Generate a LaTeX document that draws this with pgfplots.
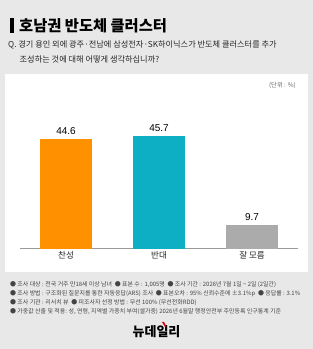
\documentclass[border=0pt]{standalone}
\usepackage{pgfplots}
\pgfplotsset{compat=1.18}
\usepackage{fontspec}
\setmainfont{Noto Sans CJK KR}
\newfontfamily\num{Liberation Sans}
\definecolor{bgc}{HTML}{E8E8E8}
\definecolor{orng}{HTML}{FF9000}
\definecolor{teal}{HTML}{0CAFC3}
\definecolor{grayb}{HTML}{ABABAB}
\definecolor{axc}{HTML}{9A9A9A}
\definecolor{ftc}{HTML}{444444}
\begin{document}
\begin{tikzpicture}[x=1bp,y=1bp]
\useasboundingbox (0,0) rectangle (313,349);
\fill[bgc] (0,0) rectangle (313,349);
\fill[white] (5,349-272) rectangle (308,349-74);
% title
\fill[black] (10,349-33) rectangle (14,349-18);
\node[anchor=west,inner sep=0pt,font=\fontsize{15.3bp}{16bp}\selectfont\bfseries] at (19,349-25.5) {호남권 반도체 클러스터};
\node[anchor=west,inner sep=0pt,font=\fontsize{8.2bp}{9bp}\selectfont,text=black!85] at (8,349-44.5) {Q. 경기 용인 외에 광주·전남에 삼성전자·SK하이닉스가 반도체 클러스터를 추가};
\node[anchor=west,inner sep=0pt,font=\fontsize{8.2bp}{9bp}\selectfont,text=black!85] at (19.5,349-59) {조성하는 것에 대해 어떻게 생각하십니까?};
\node[anchor=east,inner sep=0pt,font=\fontsize{6.3bp}{7bp}\selectfont,text=black!60] at (296,349-86) {(단위 : \%)};
\begin{axis}[
  at={(20bp,100bp)}, anchor=south west,
  scale only axis, width=278bp, height=148bp,
  xmin=-0.495, xmax=2.494, ymin=0, ymax=60,
  axis x line*=bottom, axis y line=none,
  x axis line style={axc, line width=1bp, -},
  xtick={0,1,2}, xticklabels={찬성,반대,잘 모름},
  xticklabel style={font=\fontsize{8.5bp}{9bp}\selectfont, text=black!85, yshift=1bp},
  major tick length=0pt,
  ybar, bar width=52bp, bar shift=0pt,
  nodes near coords,
  nodes near coords style={font=\num\fontsize{10bp}{11bp}\selectfont, text=black, yshift=1bp},
  /pgf/number format/fixed, /pgf/number format/fixed zerofill, /pgf/number format/precision=1,
  /pgf/number format/assume math mode=true,
  clip=false,
]
\addplot[fill=orng, draw=none] coordinates {(0,44.6)};
\addplot[fill=teal, draw=none] coordinates {(1,45.7)};
\addplot[fill=grayb, draw=none] coordinates {(2,9.7)};
\end{axis}
% footnotes
\begin{scope}[every node/.style={anchor=west,inner sep=0pt,font=\fontsize{5.95bp}{6.5bp}\selectfont,text=ftc}]
\node at (10,349-285) {● 조사 대상 : 전국 거주 만18세 이상 남녀 \ ● 표본 수 : 1,005명 \ ● 조사 기간 : 2026년 7월 1일 \textasciitilde{} 2일 (2일간)};
\node at (10,349-294) {● 조사 방법 : 구조화된 질문지를 통한 자동응답(ARS) 조사 \ ● 표본오차 : 95\% 신뢰수준에 ±3.1\%p \ ● 응답률 : 3.1\%};
\node at (10,349-303) {● 조사 기관 : 리서치 뷰 \ ● 피조사자 선정 방법 : 무선 100\% (무선전화RDD)};
\node at (10,349-312) {● 가중값 산출 및 적용: 성, 연령, 지역별 가중치 부여(셀가중) 2026년 6월말 행정안전부 주민등록 인구통계 기준};
\end{scope}
\node[inner sep=0pt,font=\fontsize{13bp}{14bp}\selectfont\bfseries] (logo) at (156.5,349-332) {뉴데일리};
\fill[red!85!black] (162,349-322) -- (164,349-322) -- (166.5,349-327) -- (165,349-327) -- cycle;
\end{tikzpicture}
\end{document}
